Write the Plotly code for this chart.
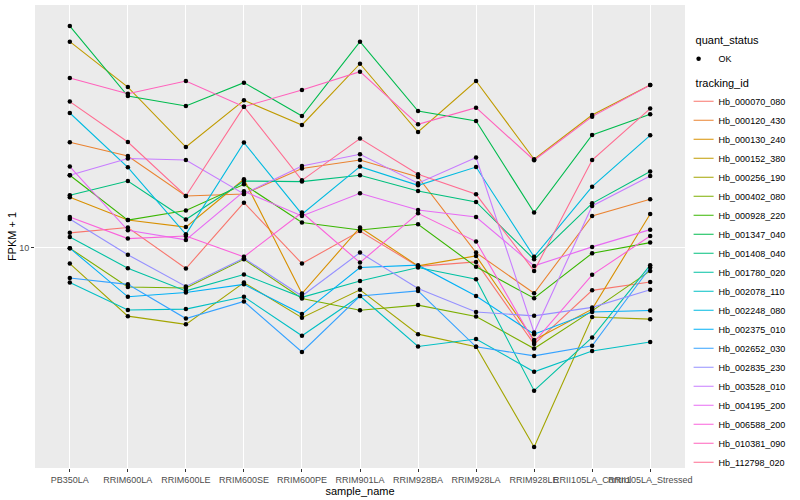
import math
import plotly.graph_objects as go

samples = ["PB350LA", "RRIM600LA", "RRIM600LE", "RRIM600SE", "RRIM600PE", "RRIM901LA",
           "RRIM928BA", "RRIM928LA", "RRIM928LE", "RRII105LA_Control", "RRII105LA_Stressed"]

# FPKM + 1 values per gene, one value per sample
hb_000070_080 = [10.70, 10.97, 9.08, 12.30, 9.29, 10.79, 9.17, 9.36, 6.41, 8.21, 8.53]
hb_000120_430 = [16.24, 15.25, 12.68, 12.80, 14.39, 14.97, 13.84, 9.77, 8.10, 11.57, 12.49]
hb_000130_240 = [12.61, 11.35, 10.99, 13.70, 8.09, 10.97, 9.19, 9.62, 6.53, 7.53, 11.67]
hb_000152_380 = [25.82, 20.95, 15.89, 19.71, 17.59, 23.33, 17.03, 21.54, 15.02, 18.42, 21.14]
hb_000256_190 = [9.29, 7.29, 7.02, 8.51, 7.24, 8.23, 6.71, 6.33, 3.99, 7.26, 7.19]
hb_000402_080 = [9.97, 8.34, 8.30, 9.47, 7.91, 7.49, 7.67, 7.28, 6.28, 7.47, 8.98]
hb_000928_220 = [13.95, 11.35, 11.86, 13.38, 11.22, 10.84, 11.13, 9.15, 7.92, 9.74, 10.23]
hb_001347_040 = [27.75, 20.10, 19.20, 21.38, 18.33, 25.82, 18.76, 17.91, 11.75, 16.80, 18.48]
hb_001408_040 = [12.72, 13.59, 11.38, 13.59, 13.55, 13.95, 12.98, 12.34, 9.47, 12.26, 14.19]
hb_001780_020 = [10.50, 9.09, 8.19, 8.83, 7.95, 8.57, 9.12, 8.64, 5.17, 6.61, 9.22]
hb_002078_110 = [8.51, 7.50, 7.53, 7.97, 6.66, 8.00, 6.34, 6.56, 5.64, 6.21, 6.47]
hb_002248_080 = [18.59, 14.47, 10.63, 16.22, 11.66, 14.52, 13.32, 14.49, 9.58, 13.24, 16.77]
hb_002375_010 = [9.97, 7.97, 8.13, 8.44, 7.36, 9.12, 9.22, 8.00, 6.71, 7.43, 7.48]
hb_002652_030 = [8.69, 8.44, 7.21, 7.80, 6.18, 8.00, 8.19, 6.33, 6.07, 6.36, 9.12]
hb_002835_230 = [11.41, 9.67, 8.36, 9.52, 8.00, 9.77, 8.28, 7.43, 7.30, 7.59, 8.23]
hb_003528_010 = [13.95, 15.07, 14.97, 12.80, 14.56, 15.37, 13.45, 15.14, 6.76, 12.11, 13.91]
hb_004195_200 = [14.52, 10.83, 10.36, 12.96, 11.57, 12.84, 11.89, 11.51, 9.19, 10.03, 10.86]
hb_006588_200 = [11.51, 10.42, 10.55, 9.58, 11.75, 9.33, 11.71, 10.28, 6.47, 8.82, 10.55]
hb_010381_090 = [21.84, 20.32, 21.54, 19.14, 20.66, 22.49, 17.64, 19.05, 14.95, 18.28, 21.14]
hb_112798_020 = [19.59, 16.26, 12.68, 19.14, 13.63, 16.52, 14.02, 12.78, 8.98, 14.97, 18.97]

tracking_ids = ["Hb_000070_080", "Hb_000120_430", "Hb_000130_240", "Hb_000152_380",
                "Hb_000256_190", "Hb_000402_080", "Hb_000928_220", "Hb_001347_040",
                "Hb_001408_040", "Hb_001780_020", "Hb_002078_110", "Hb_002248_080",
                "Hb_002375_010", "Hb_002652_030", "Hb_002835_230", "Hb_003528_010",
                "Hb_004195_200", "Hb_006588_200", "Hb_010381_090", "Hb_112798_020"]

series_values = [hb_000070_080, hb_000120_430, hb_000130_240, hb_000152_380,
                 hb_000256_190, hb_000402_080, hb_000928_220, hb_001347_040,
                 hb_001408_040, hb_001780_020, hb_002078_110, hb_002248_080,
                 hb_002375_010, hb_002652_030, hb_002835_230, hb_003528_010,
                 hb_004195_200, hb_006588_200, hb_010381_090, hb_112798_020]

colors = ["#F8766D", "#EA8331", "#D89000", "#C09B00", "#A3A500", "#7CAE00", "#39B600",
          "#00BB4E", "#00BF7D", "#00C1A3", "#00BFC4", "#00BAE0", "#00B0F6", "#35A2FF",
          "#9590FF", "#C77CFF", "#E76BF3", "#FA62DB", "#FF62BC", "#FF6C91"]

quant_status = "OK"

FONT = "Liberation Sans, Arial, sans-serif"

fig = go.Figure()

for name, vals, col in zip(tracking_ids, series_values, colors):
    fig.add_trace(go.Scatter(
        x=samples, y=vals, mode="lines", name=name,
        line=dict(color=col, width=1.1),
        legend="legend2", showlegend=True, hoverinfo="skip",
    ))

all_x = [s for vals in series_values for s in samples]
all_y = [v for vals in series_values for v in vals]
fig.add_trace(go.Scatter(
    x=all_x, y=all_y, mode="markers", name=quant_status,
    marker=dict(color="black", size=4.5, symbol="circle"),
    legend="legend", showlegend=True,
))

lo = math.log10(min(all_y))
hi = math.log10(max(all_y))
pad = (hi - lo) * 0.05

fig.update_layout(
    width=800, height=500,
    margin=dict(l=35, r=115, t=5, b=32),
    paper_bgcolor="white",
    plot_bgcolor="#EBEBEB",
    font=dict(family=FONT, size=9, color="black"),
    xaxis=dict(
        type="category", categoryorder="array", categoryarray=samples,
        range=[-0.6, len(samples) - 0.4],
        showgrid=True, gridcolor="white", gridwidth=1.1,
        ticks="outside", ticklen=3, tickcolor="#333333", tickwidth=1,
        tickangle=0,
        tickfont=dict(family=FONT, size=9, color="#4D4D4D"),
        title=dict(text="sample_name", font=dict(family=FONT, size=11, color="black"), standoff=2),
        zeroline=False, showline=False, automargin=False,
    ),
    yaxis=dict(
        type="log", range=[lo - pad, hi + pad],
        tickvals=[10], ticktext=["10"],
        showgrid=True, gridcolor="white", gridwidth=1.1,
        ticks="outside", ticklen=3, tickcolor="#333333", tickwidth=1,
        tickfont=dict(family=FONT, size=9, color="#4D4D4D"),
        title=dict(text="FPKM + 1", font=dict(family=FONT, size=11, color="black"), standoff=0),
        zeroline=False, showline=False, automargin=False,
    ),
    legend=dict(
        xref="container", yref="container", x=0.867, y=0.94,
        xanchor="left", yanchor="top",
        title=dict(text="quant_status", font=dict(family=FONT, size=11, color="black")),
        font=dict(family=FONT, size=9, color="black"),
        bgcolor="rgba(0,0,0,0)", itemwidth=30, indentation=-15,
    ),
    legend2=dict(
        xref="container", yref="container", x=0.867, y=0.855,
        xanchor="left", yanchor="top",
        title=dict(text="tracking_id", font=dict(family=FONT, size=11, color="black")),
        font=dict(family=FONT, size=9, color="black"),
        bgcolor="rgba(0,0,0,0)", itemwidth=30, traceorder="normal", indentation=-15,
        maxheight=440,
    ),
)

fig.write_html("out.html", config={"displayModeBar": False},
               post_script="document.body.style.margin='0';")
